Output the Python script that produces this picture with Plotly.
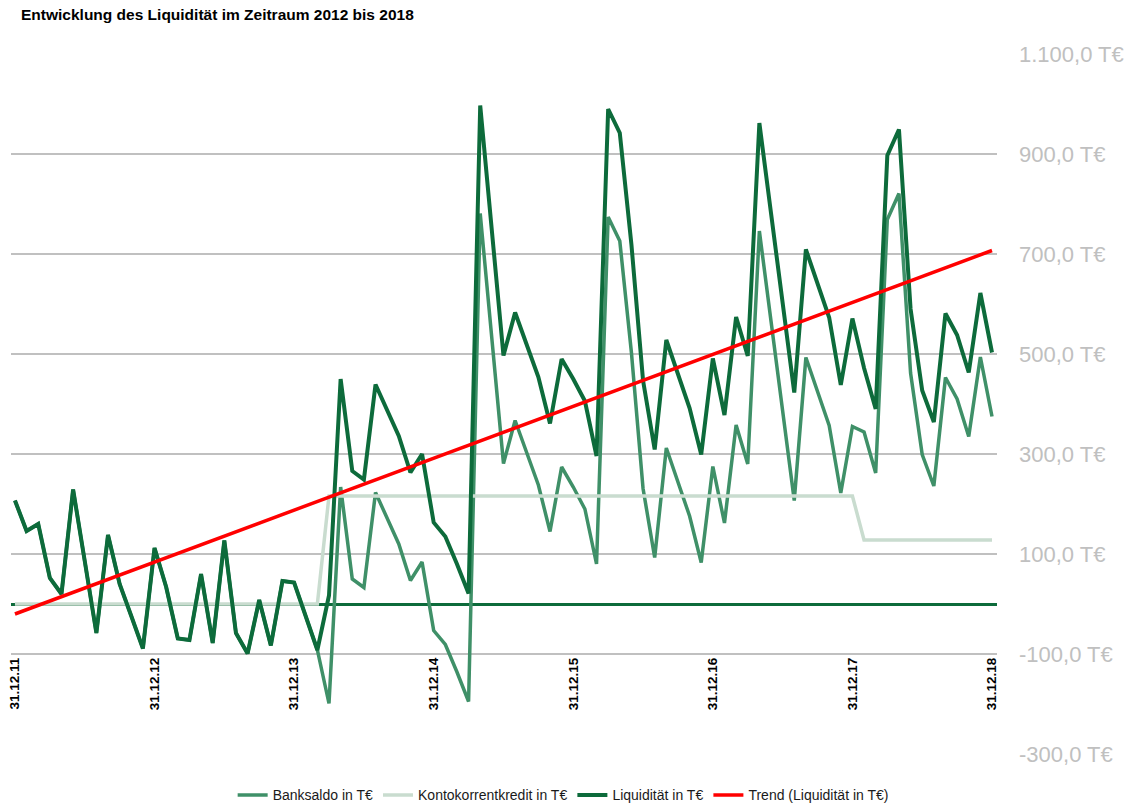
import plotly.graph_objects as go

# ---- data (monthly, 31.12.2011 .. 31.12.2018) ----
liquiditaet = [207, 146, 160, 52, 20, 229, 86, -58, 138, 40, -24, -89,
               112, 34, -69, -72, 60, -78, 127, -58, -99, 8, -83, 46,
               43, -25, -92, 17, 450, 266, 249, 439, 389, 336, 263, 300,
               163, 135, 80, 21, 997, 748, 497, 583, 520, 454, 361, 490,
               450, 406, 296, 990, 942, 719, 447, 309, 528, 460, 392, 299,
               491, 378, 574, 496, 962, 782, 600, 423, 709, 643, 573, 438,
               571, 472, 390, 897, 949, 590, 427, 364, 581, 538, 463, 622,
               503]

kontokorrent = [0] * 27 + [216] * 46 + [128] * 12

banksaldo = [207, 146, 160, 52, 20, 229, 86, -58, 138, 40, -24, -89,
             112, 34, -69, -72, 60, -78, 127, -58, -99, 8, -83, 46,
             43, -25, -92, -199, 234, 50, 33, 223, 173, 120, 47, 84,
             -53, -81, -136, -195, 781, 532, 281, 367, 304, 238, 145, 274,
             234, 190, 80, 774, 726, 503, 231, 93, 312, 244, 176, 83,
             275, 162, 358, 280, 746, 566, 384, 207, 493, 427, 357, 222,
             355, 344, 262, 769, 821, 462, 299, 236, 453, 410, 335, 494,
             375]

months = list(range(len(liquiditaet)))

trend_x = [0, 84]
trend_y = [-20, 707]

x_tickvals = [0, 12, 24, 36, 48, 60, 72, 84]
x_ticktext = ["31.12.11", "31.12.12", "31.12.13", "31.12.14",
              "31.12.15", "31.12.16", "31.12.17", "31.12.18"]

y_tickvals = [-300, -100, 100, 300, 500, 700, 900, 1100]
y_ticktext = ["-300,0 T€", "-100,0 T€", "100,0 T€", "300,0 T€",
              "500,0 T€", "700,0 T€", "900,0 T€", "1.100,0 T€"]

FONT = "Liberation Sans Narrow, Arial Narrow, Liberation Sans, Arial, sans-serif"

C_BANK = "#3f9068"
C_KK = "#c9dccf"
C_LIQ = "#0d6b3b"
C_TREND = "#ff0000"

fig = go.Figure()
fig.add_trace(go.Scatter(x=months, y=banksaldo, mode="lines",
                         name="Banksaldo in T€",
                         line=dict(color=C_BANK, width=3.5)))
fig.add_trace(go.Scatter(x=months, y=kontokorrent, mode="lines",
                         name="Kontokorrentkredit in T€",
                         line=dict(color=C_KK, width=3.5)))
fig.add_trace(go.Scatter(x=months, y=liquiditaet, mode="lines",
                         name="Liquidität in T€",
                         line=dict(color=C_LIQ, width=4)))
fig.add_trace(go.Scatter(x=trend_x, y=trend_y, mode="lines",
                         name="Trend (Liquidität in T€)",
                         line=dict(color=C_TREND, width=3.5)))

fig.update_layout(
    width=1127, height=805,
    margin=dict(l=11, r=130, t=54, b=51, autoexpand=False),
    paper_bgcolor="white", plot_bgcolor="white",
    font=dict(family=FONT, color="#000000"),
    title=dict(text="<b>Entwicklung des Liquidität im Zeitraum 2012 bis 2018</b>",
               x=21 / 1127, xref="container", xanchor="left",
               y=1 - 15 / 805, yref="container", yanchor="middle",
               pad=dict(l=0, r=0, t=0, b=0), automargin=False,
               font=dict(family=FONT, size=15.5, color="#000000")),
    showlegend=True,
    legend=dict(orientation="h", x=0.56, xanchor="center",
                y=-0.059, yanchor="middle",
                font=dict(family=FONT, size=14, color="#1a1a1a"),
                bgcolor="rgba(0,0,0,0)", traceorder="normal"),
    xaxis=dict(range=[-0.34, 84.43], anchor="free", position=200 / 1400,
               tickmode="array", tickvals=x_tickvals, ticktext=x_ticktext,
               tickangle=-90, showgrid=False, zeroline=False,
               showline=False, ticks="", automargin=False,
               tickfont=dict(family=FONT, size=13.5, color="#000000",
                             weight="bold")),
    yaxis=dict(range=[-300, 1100], side="right",
               tickmode="array", tickvals=y_tickvals, ticktext=y_ticktext,
               showgrid=True, gridcolor="#c0c0c0", gridwidth=2,
               zeroline=True, zerolinecolor=C_LIQ, zerolinewidth=3,
               showline=False, ticks="", ticklabelstandoff=21,
               automargin=False,
               tickfont=dict(family=FONT, size=22, color="#c0c0c0")),
)

fig.write_html("out.html",
               config={"displayModeBar": False},
               post_script="document.body.style.margin='0px';"
                           "document.body.style.overflow='hidden';")
